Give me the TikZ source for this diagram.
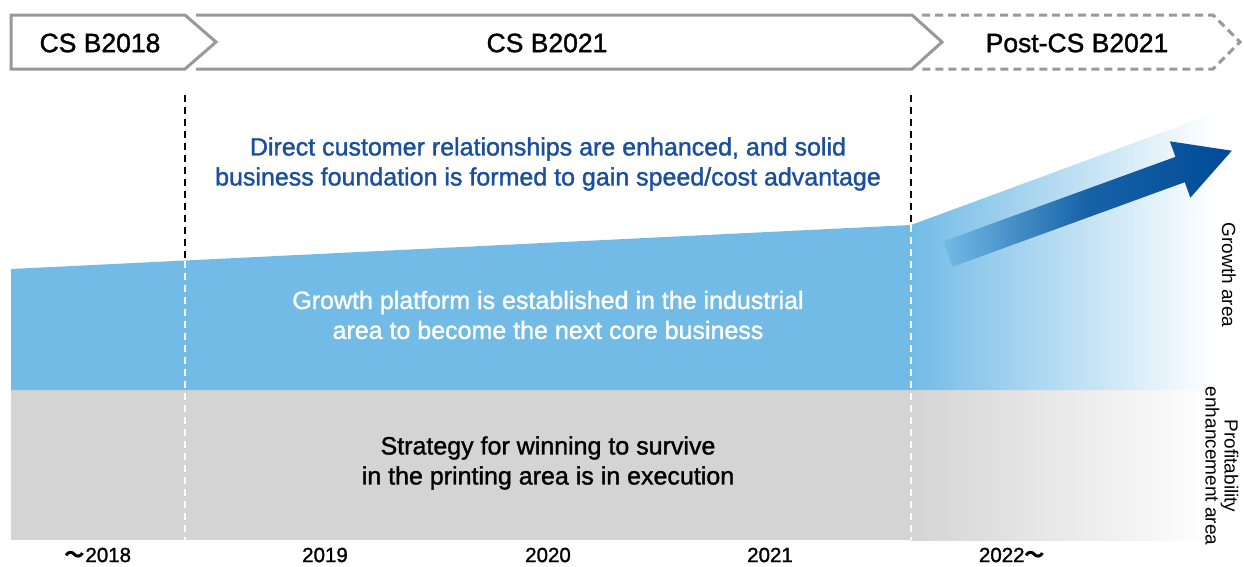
\documentclass[tikz,border=0pt]{standalone}
\usepackage{fontspec}
\setmainfont{Liberation Sans}
\newfontfamily\medfont{Liberation Sans}[FakeBold=1.3]
\newfontfamily\cjkfont{Noto Sans CJK JP}
\usetikzlibrary{calc}
\definecolor{hdrgray}{HTML}{999999}
\definecolor{growblue}{HTML}{72BBE6}
\definecolor{basegray}{HTML}{D4D4D4}
\definecolor{txtblue}{HTML}{1A4F9E}
\definecolor{arrowblue}{HTML}{004B97}
\tikzset{
  hdr/.style={draw=hdrgray, line width=3pt, line join=miter},
  hdrtext/.style={font=\medfont\fontsize{26.5}{30}\selectfont, text=black, anchor=center, inner sep=0pt},
  bodytext/.style={font=\medfont\fontsize{25}{30}\selectfont, align=center, anchor=center, inner sep=0pt},
  yeartext/.style={font=\medfont\fontsize{20.5}{24}\selectfont, text=black, anchor=center, inner sep=0pt},
  sidetext/.style={font=\fontsize{19}{19}\selectfont, text=black, rotate=-90, align=center, anchor=center, inner sep=0pt},
  vdash/.style={line width=1.5pt, dash pattern=on 7pt off 5pt},
}
\begin{document}
\begin{tikzpicture}[x=1pt,y=-1pt]
\useasboundingbox (0,0) rectangle (1244,566);
% coordinates
\coordinate (gTL) at (11,269);
\coordinate (gTM) at (911,225);
\coordinate (gTR) at (1215,113);
\coordinate (gBL) at (11,390);
\coordinate (gBM) at (911,390);
\coordinate (gBR) at (1215,390);
\coordinate (pBL) at (11,540);
\coordinate (pBM) at (911,540);
\coordinate (pBR) at (1215,540);
% gray band
\fill[basegray] (gBL) rectangle (pBM);
\shade[left color=basegray, right color=white] (gBM) rectangle (pBR);
% blue band
\fill[growblue] (gTL) -- (gTM) -- (gBM) -- (gBL) -- cycle;
\shade[left color=growblue, right color=white] (gTM) -- (gTR) -- (gBR) -- (gBM) -- cycle;
% arrow
\begin{scope}[shift={(948,254)}, rotate=20]
  \shade[left color=growblue, right color=arrowblue, middle color=arrowblue!80!growblue]
    (0,-13.5) -- (247,-13.5) -- (247,-30) -- (302,0) -- (247,30) -- (247,13.5) -- (0,13.5) -- cycle;
\end{scope}
% dashed verticals
\coordinate (d1t) at (185,95);
\coordinate (d1m) at (185,260.5);
\coordinate (d1b) at (185,540);
\coordinate (d2t) at (911,95);
\coordinate (d2m) at (911,225);
\coordinate (d2b) at (911,540);
\draw[vdash, black] (d1t) -- (d1m);
\draw[vdash, white] (d1m) -- (d1b);
\draw[vdash, black] (d2t) -- (d2m);
\draw[vdash, white] (d2m) -- (d2b);
% header chevrons
\draw[hdr] (11,15) -- (185,15) -- (216,42) -- (185,69) -- (11,69) -- cycle;
\draw[hdr] (196,15) -- (912,15) -- (942,42) -- (912,69) -- (196,69);
\draw[hdr, dash pattern=on 8pt off 5pt] (922,15) -- (1213,15) -- (1240,42) -- (1213,69) -- (922,69);
\node[hdrtext] (h1) at (100,43) {CS B2018};
\node[hdrtext] (h2) at (547,43) {CS B2021};
\node[hdrtext] (h3) at (1077,43) {Post-CS B2021};
% body texts
\node[bodytext, text=txtblue] (t1) at (548,164) {Direct customer relationships are enhanced, and solid\\business foundation is formed to gain speed/cost advantage};
\node[bodytext, text=white] (t2) at (548,315) {Growth platform is established in the industrial\\area to become the next core business};
\node[bodytext, text=black] (t3) at (548,463) {Strategy for winning to survive\\in the printing area is in execution};
% years
\node[yeartext] (y1) at (98,555) {{\cjkfont\bfseries ～}2018};
\node[yeartext] (y2) at (325,555) {2019};
\node[yeartext] (y3) at (548,555) {2020};
\node[yeartext] (y4) at (770,555) {2021};
\node[yeartext] (y5) at (1012,555) {2022{\cjkfont\bfseries ～}};
% side labels
\node[sidetext] (s1) at (1229,275) {Growth area};
\node[sidetext] (s2) at (1222,466) {Profitability\\enhancement area};
\end{tikzpicture}
\end{document}
